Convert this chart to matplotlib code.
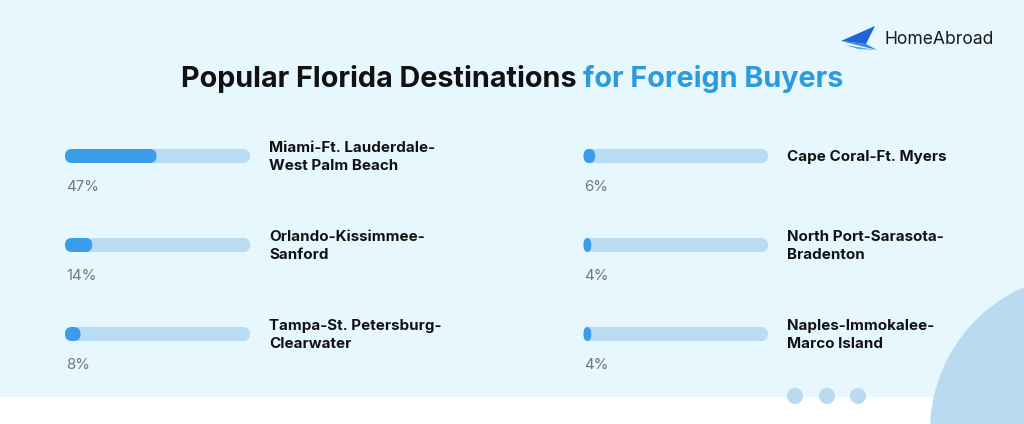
import matplotlib
matplotlib.use("Agg")
import matplotlib.pyplot as plt
from matplotlib.patches import FancyBboxPatch, Circle, Rectangle, Polygon

# ---- data ----
left_labels = ["Miami-Ft. Lauderdale-\nWest Palm Beach",
               "Orlando-Kissimmee-\nSanford",
               "Tampa-St. Petersburg-\nClearwater"]
left_values = [47, 14, 8]
right_labels = ["Cape Coral-Ft. Myers",
                "North Port-Sarasota-\nBradenton",
                "Naples-Immokalee-\nMarco Island"]
right_values = [6, 4, 4]
title_black = "Popular Florida Destinations "
title_blue = "for Foreign Buyers"
brand = "HomeAbroad"
scale_max = 95

# ---- style ----
W, H = 1024, 424
BG = "#E6F7FE"
TRACK = "#B9DCF2"
FILL = "#3A9CEA"
BLUE_TXT = "#2B9BE0"
FONT = "Inter"

fig = plt.figure(figsize=(W / 100, H / 100), dpi=100)
fig.patch.set_facecolor(BG)

ax = fig.add_axes([0, 0, 1, 1])
ax.set_xlim(0, W)
ax.set_ylim(H, 0)
ax.axis("off")

# bottom white strip and decorations
ax.add_patch(Rectangle((0, 397), W, H - 397, facecolor="white", edgecolor="none", zorder=1))
ax.add_patch(Circle((1087, 431), 157, facecolor="#B9DAF0", edgecolor="none", zorder=2))
for cx in (795, 827, 858):
    ax.add_patch(Circle((cx, 396), 8, facecolor="#B9DAF1", edgecolor="none", zorder=3))

# logo
ax.add_patch(Polygon([(841, 41), (875, 26), (866, 44)], closed=True, facecolor="#1F63D6", edgecolor="none", zorder=3))
ax.add_patch(Polygon([(841, 41), (866, 44), (877, 50)], closed=True, facecolor="#2E86E8", edgecolor="none", zorder=3))
ax.add_patch(Polygon([(845, 45), (877, 50), (858, 49)], closed=True, facecolor="#5AA8F0", edgecolor="none", zorder=3))
ax.text(885, 39, brand, fontsize=12.6, family=FONT, color="#1a1a1a", va="center", ha="left", zorder=4)

# title
t1 = ax.text(0, 79, title_black, fontsize=20.7, family=FONT, fontweight="bold",
             color="#111111", va="center", ha="left", zorder=4)
t2 = ax.text(0, 79, title_blue, fontsize=20.7, family=FONT, fontweight="bold",
             color=BLUE_TXT, va="center", ha="left", zorder=4)
fig.canvas.draw()
r = fig.canvas.get_renderer()
w1 = t1.get_window_extent(r).width
w2 = t2.get_window_extent(r).width
x_start = (W - (w1 + w2)) / 2
t1.set_x(x_start)
t2.set_x(x_start + w1)

row_y = [156, 245, 334]
BAR_H = 14


def draw_bar(x0, x1, cy, value):
    bax = fig.add_axes([x0 / W, 1 - (cy + BAR_H / 2) / H, (x1 - x0) / W, BAR_H / H])
    bax.set_xlim(0, scale_max)
    bax.set_ylim(0, 1)
    bax.axis("off")
    bax.patch.set_alpha(0)
    bax.set_zorder(5)
    px_per_unit = (x1 - x0) / scale_max
    r_full = (BAR_H / 2) / px_per_unit
    bax.add_patch(FancyBboxPatch((0, 0), scale_max, 1,
                                 boxstyle=f"round,pad=0,rounding_size={r_full}",
                                 mutation_aspect=0.5 / r_full,
                                 facecolor=TRACK, edgecolor="none", clip_on=False))
    rf = min(r_full, value / 2)
    bax.add_patch(FancyBboxPatch((0, 0), value, 1,
                                 boxstyle=f"round,pad=0,rounding_size={rf}",
                                 mutation_aspect=0.5 / rf,
                                 facecolor=FILL, edgecolor="none", clip_on=False))


for labels, values, bx0, bx1, lx in ((left_labels, left_values, 65, 250, 269),
                                      (right_labels, right_values, 583.5, 768, 787)):
    for lab, val, cy in zip(labels, values, row_y):
        draw_bar(bx0, bx1, cy, val)
        ax.text(lx, cy + 1, lab, fontsize=10.9, family=FONT, fontweight="bold", color="#111111",
                va="center", ha="left", linespacing=1.38, zorder=4)
        ax.text(bx0 + 1, cy + 31, f"{val}%", fontsize=10.8, family=FONT, color="#777777",
                va="center", ha="left", zorder=4)

fig.savefig("out.png", dpi=100, facecolor=BG)
